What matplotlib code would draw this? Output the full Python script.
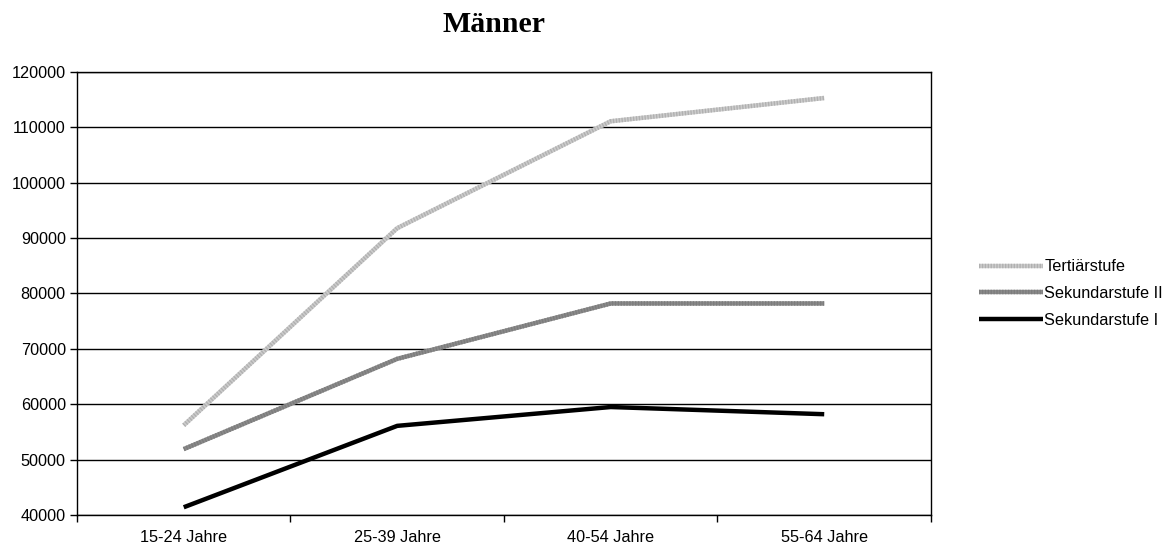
import matplotlib
matplotlib.use('Agg')
import matplotlib.pyplot as plt
import numpy as np

plt.rcParams['font.family'] = ['Liberation Sans', 'DejaVu Sans']

categories = ['15-24 Jahre', '25-39 Jahre', '40-54 Jahre', '55-64 Jahre']
tertiaer = [56200, 91800, 111100, 115300]
sek2 = [51900, 68200, 78200, 78200]
sek1 = [41400, 56100, 59500, 58200]

fig = plt.figure(figsize=(11.7, 5.49), dpi=100)
ax = fig.add_axes([0.0658, 0.0619, 0.7299, 0.807])

x = np.arange(len(categories))
# light grey line with a fine darker stripe pattern on top
t1, = ax.plot(x, tertiaer, color='#cccccc', lw=3.2, solid_capstyle='butt')
t2, = ax.plot(x, tertiaer, color='#b0b0b0', lw=3.2, dashes=(0.3, 0.35), dash_capstyle='butt')
s2a, = ax.plot(x, sek2, color='#8a8a8a', lw=3.2, solid_capstyle='butt')
s2b, = ax.plot(x, sek2, color='#7c7c7c', lw=3.2, dashes=(0.3, 0.35), dash_capstyle='butt')
s1, = ax.plot(x, sek1, color='black', lw=3.2, solid_capstyle='butt')

ax.set_xlim(-0.5, 3.5)
ax.set_ylim(40000, 120000)
ax.set_yticks(np.arange(40000, 120001, 10000))
ax.set_xticks(x)
ax.set_xticklabels(categories)
ax.set_xticks(np.arange(-0.5, 3.6, 1), minor=True)
ax.tick_params(axis='x', which='major', length=0, pad=11, labelsize=11.7)
ax.tick_params(axis='x', which='minor', length=5, direction='out', width=1)
ax.tick_params(axis='y', length=5, direction='out', width=1, labelsize=11.7, pad=3)
ax.yaxis.grid(True, color='black', lw=1)
ax.set_axisbelow(True)
for s in ax.spines.values():
    s.set_color('black')
    s.set_linewidth(1)

fig.text(494 / 1170, 1 - 24 / 549, 'Männer', fontsize=21.5, fontweight='bold',
         family='Liberation Serif', ha='center', va='center')

ax.legend([(t1, t2), (s2a, s2b), s1], ['Tertiärstufe', 'Sekundarstufe II', 'Sekundarstufe I'],
          loc='center left', bbox_to_anchor=(1.0395, 0.5), frameon=False, fontsize=11.7,
          handlelength=3.9, handletextpad=0.1, labelspacing=0.72)

fig.savefig('out.png', dpi=100)
